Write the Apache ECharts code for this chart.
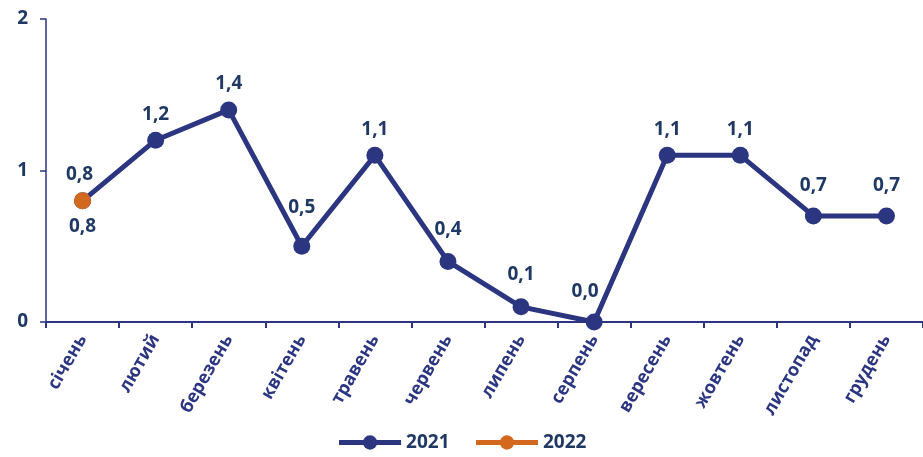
<!DOCTYPE html>
<html>
<head>
<meta charset="utf-8">
<script src="https://cdn.jsdelivr.net/npm/echarts@6/dist/echarts.min.js"></script>
<style>
  html, body { margin: 0; padding: 0; background: #fff; }
  #chart { width: 923px; height: 457px; }
</style>
</head>
<body>
<div id="chart"></div>
<script>
// місяці
var months = ['січень', 'лютий', 'березень', 'квітень', 'травень', 'червень',
    'липень', 'серпень', 'вересень', 'жовтень', 'листопад', 'грудень'];
var values2021 = [0.8, 1.2, 1.4, 0.5, 1.1, 0.4, 0.1, 0.0, 1.1, 1.1, 0.7, 0.7];
var values2022 = [0.8, null, null, null, null, null, null, null, null, null, null, null];
var yTicks = [0, 1, 2];

var navy = '#2B3580';
var textColor = '#1F3864';
var orange = '#D2691E';
var font = '"Open Sans", "Liberation Sans", sans-serif';
// додатковий зсув підписів, щоб не перекривали лінію
var labelLift = [0, 0, 0, 13, 0, 6, 6, 4, 0, 0, 4, 4];
var labelShift = [-3, 0, 0, 0, 0, 0, 0, -9, 0, 0, 0, 0];

var myChart = echarts.init(document.getElementById('chart'));

function fmt(p) {
    return p.value == null ? '' : p.value.toFixed(1).replace('.', ',');
}

myChart.setOption({
    animation: false,
    grid: {
        left: 46,
        right: 0,
        top: 19,
        bottom: 135
    },
    legend: {
        bottom: 0,
        left: 'center',
        itemWidth: 62,
        itemHeight: 18,
        itemGap: 24,
        lineStyle: { width: 5 },
        textStyle: {
            color: textColor,
            fontSize: 19,
            fontWeight: 'bold',
            fontFamily: font
        },
        data: ['2021', '2022']
    },
    xAxis: {
        type: 'category',
        data: months,
        boundaryGap: true,
        axisLine: { lineStyle: { color: navy, width: 2 } },
        axisTick: { show: true, length: 6, alignWithLabel: false, lineStyle: { color: navy, width: 2 } },
        axisLabel: {
            interval: 0,
            rotate: 60,
            margin: 14,
            color: navy,
            fontSize: 18,
            fontWeight: 'bold',
            fontFamily: font
        }
    },
    yAxis: {
        type: 'value',
        min: 0,
        max: 2,
        interval: 1,
        splitLine: { show: false },
        axisLine: { show: true, lineStyle: { color: navy, width: 1.5 } },
        axisTick: { show: true, length: 6, lineStyle: { color: navy, width: 1.5 } },
        axisLabel: {
            margin: 18,
            color: textColor,
            fontSize: 19,
            fontWeight: 'bold',
            fontFamily: font,
            formatter: function (v) { return yTicks.indexOf(v) >= 0 ? String(v) : ''; }
        }
    },
    series: [{
        name: '2021',
        type: 'line',
        data: values2021,
        symbol: 'circle',
        symbolSize: 17,
        z: 2,
        lineStyle: { color: navy, width: 5 },
        itemStyle: { color: navy },
        label: {
            show: true,
            position: 'top',
            distance: 8,
            color: textColor,
            fontSize: 19,
            fontWeight: 'bold',
            fontFamily: font,
            formatter: fmt
        },
        labelLayout: function (params) {
            return { dx: labelShift[params.dataIndex], dy: -labelLift[params.dataIndex] };
        }
    }, {
        name: '2022',
        type: 'line',
        data: values2022,
        symbol: 'circle',
        symbolSize: 17,
        z: 3,
        lineStyle: { color: orange, width: 5 },
        itemStyle: { color: orange },
        label: {
            show: true,
            position: 'bottom',
            distance: 8,
            color: textColor,
            fontSize: 19,
            fontWeight: 'bold',
            fontFamily: font,
            formatter: fmt
        }
    }]
});
</script>
</body>
</html>
